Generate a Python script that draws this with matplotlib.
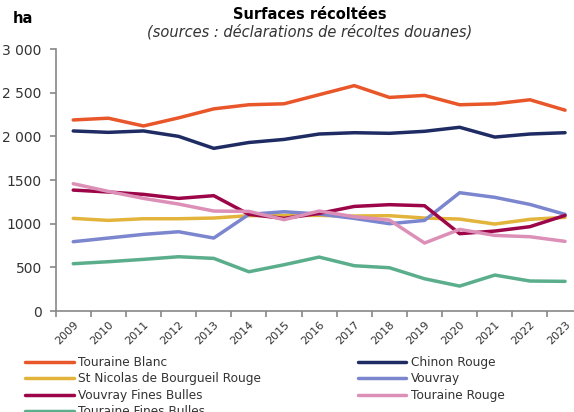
import matplotlib
matplotlib.use("Agg")
from matplotlib import pyplot as plt
import numpy as np

plt.rcParams['font.family'] = ['DejaVu Sans']

years = [str(y) for y in range(2009, 2024)]

touraine_blanc = [2188, 2208, 2119, 2212, 2315, 2362, 2373, 2477, 2581, 2446, 2469, 2362, 2373, 2419, 2300]
chinon_rouge = [2062, 2046, 2062, 2000, 1863, 1930, 1965, 2027, 2042, 2035, 2058, 2104, 1992, 2027, 2042]
st_nicolas = [1061, 1038, 1057, 1057, 1065, 1092, 1095, 1095, 1088, 1092, 1065, 1053, 996, 1050, 1073]
vouvray = [794, 836, 878, 908, 836, 1107, 1137, 1111, 1061, 1000, 1038, 1355, 1302, 1221, 1107]
vouvray_fb = [1385, 1363, 1336, 1290, 1321, 1107, 1061, 1118, 1198, 1218, 1206, 886, 916, 966, 1095]
touraine_rouge = [1458, 1370, 1290, 1225, 1145, 1141, 1046, 1145, 1080, 1042, 779, 935, 866, 851, 798]
touraine_fb = [542, 565, 592, 622, 603, 450, 530, 618, 519, 496, 370, 286, 412, 344, 340]

series = [
    ("Touraine Blanc", touraine_blanc, "#E8562A"),
    ("Chinon Rouge", chinon_rouge, "#1F2B63"),
    ("St Nicolas de Bourgueil Rouge", st_nicolas, "#E3B43C"),
    ("Vouvray", vouvray, "#7B86CE"),
    ("Vouvray Fines Bulles", vouvray_fb, "#9C0548"),
    ("Touraine Rouge", touraine_rouge, "#DC8FB7"),
    ("Touraine Fines Bulles", touraine_fb, "#5BAE8C"),
]

yticks = [0, 500, 1000, 1500, 2000, 2500, 3000]
ytick_labels = ["0", "500", "1000", "1500", "2 000", "2 500", "3 000"]

fig = plt.figure(figsize=(5.74, 4.12), dpi=100)
ax = fig.add_axes([0.097, 0.245, 0.918, 0.636])

x = np.arange(len(years))
lines = {}
for name, vals, col in series:
    lines[name], = ax.plot(x, vals, color=col, linewidth=2.5, label=name, solid_capstyle='round')

ax.set_xlim(-0.5, len(years) - 0.5)
ax.set_ylim(0, 3000)
ax.set_yticks(yticks)
ax.set_yticklabels(ytick_labels, fontsize=10, color="#333333")
# category boundaries carry the tick marks, labels sit on the centres
ax.set_xticks(np.arange(len(years) + 1) - 0.5)
ax.set_xticklabels([])
ax.set_xticks(x, minor=True)
ax.set_xticklabels(years, minor=True, rotation=45, ha='right', rotation_mode='anchor',
                   fontsize=8, color="#333333")
ax.tick_params(axis='x', which='minor', length=0, pad=6)
ax.tick_params(axis='x', which='major', length=4, color="#888888", width=1.2)
ax.tick_params(axis='y', length=4, color="#888888", width=1.2, pad=6)

for s in ['top', 'right']:
    ax.spines[s].set_visible(False)
for s in ['left', 'bottom']:
    ax.spines[s].set_color("#888888")
    ax.spines[s].set_linewidth(1.2)

fig.text(0.022, 0.955, "ha", fontsize=10.5, fontweight='bold', va='center')
fig.text(0.54, 0.965, "Surfaces récoltées", fontsize=10.5, fontweight='bold', ha='center', va='center')
fig.text(0.54, 0.922, "(sources : déclarations de récoltes douanes)", fontsize=10.5,
         style='italic', ha='center', va='center', color="#333333")

order = ["Touraine Blanc", "St Nicolas de Bourgueil Rouge", "Vouvray Fines Bulles",
         "Touraine Fines Bulles", "Chinon Rouge", "Vouvray", "Touraine Rouge"]
leg = fig.legend([lines[n] for n in order], order, ncol=2, loc='upper left',
                 bbox_to_anchor=(0.044, 0.136), frameon=False, fontsize=8.7,
                 handlelength=4.0, handletextpad=0.4, columnspacing=8.0,
                 labelspacing=0.28, borderaxespad=0, borderpad=0)
for t in leg.get_texts():
    t.set_color("#333333")

plt.savefig("out.png", dpi=100)
